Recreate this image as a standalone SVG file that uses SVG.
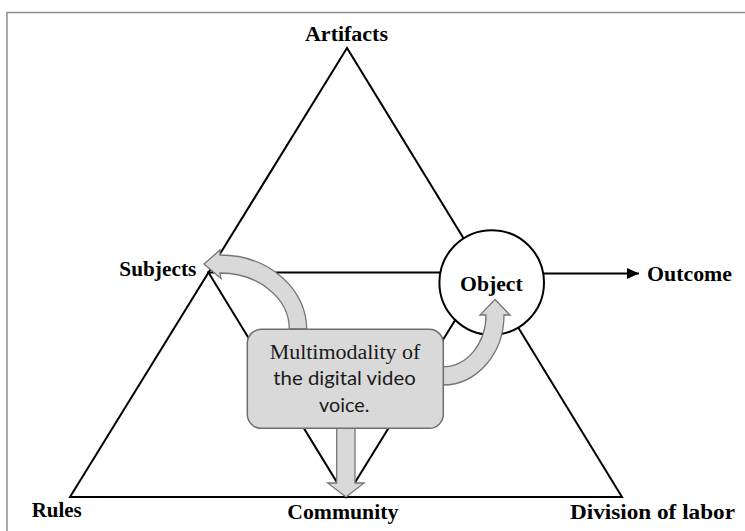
<svg xmlns="http://www.w3.org/2000/svg" width="745" height="531" viewBox="0 0 745 531">
  <defs>
    <style>
      .line { stroke: #000; stroke-width: 2; fill: none; }
      .lbl { font-family: "Liberation Serif", "Times New Roman", serif; font-weight: bold; font-size: 20px; fill: #000; }
      .garrow { fill: #d9d9d9; stroke: #767676; stroke-width: 1.3; stroke-linejoin: miter; }
      .box { fill: #d9d9d9; stroke: #6f6f6f; stroke-width: 1.5; }
      .btxt { font-size: 20px; fill: #1a1a1a; text-anchor: middle; }
    </style>
    <marker id="ah" markerWidth="12" markerHeight="12" refX="12" refY="6" orient="auto" markerUnits="userSpaceOnUse">
      <path d="M0,0.5 L12,6 L0,11.5 Z" fill="#000"/>
    </marker>
  </defs>

  <rect x="7" y="12.5" width="760" height="540" fill="none" stroke="#8e8e8e" stroke-width="1.5"/>

  <g id="connectors">
    <polygon class="line" points="347,48 70,497 622,497"/>
    <polygon class="line" points="208.5,272.5 484.5,272.5 346,497"/>
    <line class="line" x1="544" y1="273.5" x2="639" y2="273.5" marker-end="url(#ah)"/>
  </g>

  <g id="node-object">
    <circle cx="491.7" cy="282.5" r="52.3" fill="#fff" stroke="#000" stroke-width="2"/>
    <text class="lbl" x="460" y="291" textLength="62.7" lengthAdjust="spacingAndGlyphs">Object</text>
  </g>

  <g id="arrows">
    <path class="garrow" d="M306.7,329 A86.7,74 0 0 0 220,255 L220,250 L204,264 L221,278.5 L220,273 A69.3,56 0 0 1 289.3,329 Z"/>
    <path class="garrow" d="M443,385 A61,70 0 0 0 504,315 L510,315 L495,299.5 L480,315 L486,315 A43,51.7 0 0 1 443,366.7 Z"/>
    <path class="garrow" d="M336.7,428 L355,428 L355,483 L364,483 L346,497 L327.7,483 L336.7,483 Z"/>
  </g>

  <g id="node-center">
    <rect class="box" x="247.3" y="329.3" width="196" height="99" rx="14" ry="14"/>
    <text class="btxt" x="345" y="359.3" font-family="'Liberation Serif', 'Times New Roman', serif" textLength="150.7" lengthAdjust="spacingAndGlyphs">Multimodality of</text>
    <text class="btxt" x="344.5" y="385" font-family="Lato, 'Open Sans', sans-serif" textLength="142.4" lengthAdjust="spacingAndGlyphs">the digital video</text>
    <text class="btxt" x="344.2" y="411.7" font-family="Lato, 'Open Sans', sans-serif" textLength="50.3" lengthAdjust="spacingAndGlyphs">voice.</text>
  </g>

  <g id="node-artifacts"><text class="lbl" x="305" y="41" textLength="83" lengthAdjust="spacingAndGlyphs">Artifacts</text></g>
  <g id="node-subjects"><text class="lbl" x="119.3" y="276" textLength="77" lengthAdjust="spacingAndGlyphs">Subjects</text></g>
  <g id="node-outcome"><text class="lbl" x="647" y="281" textLength="85" lengthAdjust="spacingAndGlyphs">Outcome</text></g>
  <g id="node-rules"><text class="lbl" x="31.7" y="517" textLength="50" lengthAdjust="spacingAndGlyphs">Rules</text></g>
  <g id="node-community"><text class="lbl" x="287.3" y="519" textLength="111" lengthAdjust="spacingAndGlyphs">Community</text></g>
  <g id="node-division"><text class="lbl" x="570" y="519" textLength="165" lengthAdjust="spacingAndGlyphs">Division of labor</text></g>
</svg>
